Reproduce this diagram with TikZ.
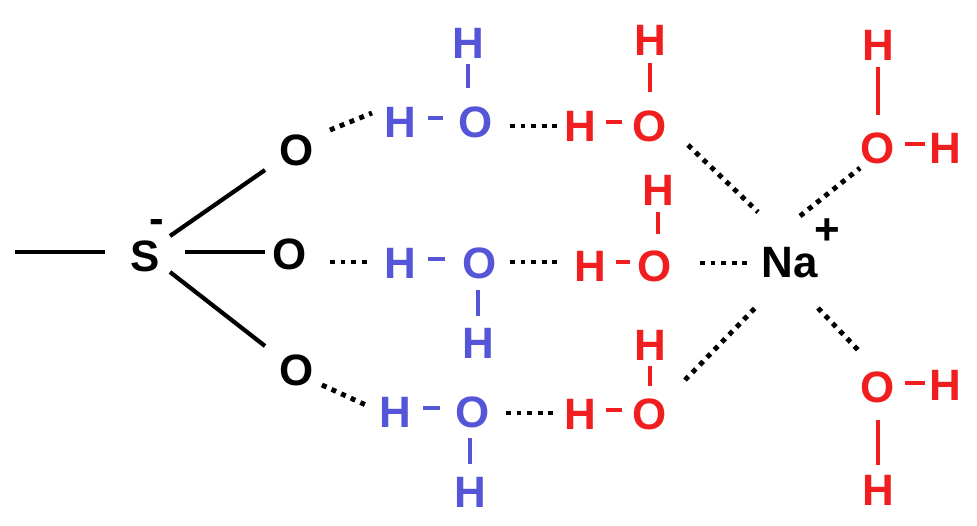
\documentclass[tikz,border=0pt]{standalone}
\usepackage{fontspec}
\setmainfont{Liberation Sans}
\definecolor{bl}{RGB}{85,85,215}
\definecolor{rd}{RGB}{240,30,30}
\begin{document}
\begin{tikzpicture}[x=0.02cm,y=-0.02cm,
  atm/.style={font=\fontsize{25}{25}\selectfont\bfseries,inner sep=0pt},
  bond/.style={line width=2.4pt},
  hb/.style={line width=2.8pt,dash pattern=on 2.8pt off 3.2pt}]
\useasboundingbox (0,0) rectangle (977,525);
% black
\coordinate (L) at (15,252);
\node[atm] (S) at (145,256) {S};
\node[atm] (Sm) at (157,226) {-};
\node[atm] (O1) at (297,150) {O};
\node[atm] (O2) at (290,254) {O};
\node[atm] (O3) at (297,370) {O};
\draw[bond] (L) -- (105,252);
\draw[bond] (170,236) -- (265,170);
\draw[bond] (185,252) -- (265,252);
\draw[bond] (170,272) -- (265,346);
% blue
\begin{scope}[bl]
\node[atm,bl] (bH1) at (400,122) {H};
\node[atm,bl] (bO1) at (476,122) {O};
\node[atm,bl] (bH1t) at (468,43) {H};
\draw[bond] (428,118) -- (443,118);
\draw[bond] (468,64) -- (468,88);
\node[atm,bl] (bH2) at (400,263) {H};
\node[atm,bl] (bO2) at (480,263) {O};
\node[atm,bl] (bH2b) at (478,343) {H};
\draw[bond] (428,259) -- (445,259);
\draw[bond] (478,290) -- (478,316);
\node[atm,bl] (bH3) at (395,412) {H};
\node[atm,bl] (bO3) at (473,412) {O};
\node[atm,bl] (bH3b) at (470,492) {H};
\draw[bond] (423,408) -- (440,408);
\draw[bond] (470,438) -- (470,464);
\end{scope}
\draw[hb] (330,130) -- (372,113);
\draw[hb] (330,262) -- (372,262);
\draw[hb] (322,385) -- (368,406);
% red
\begin{scope}[rd]
\node[atm,rd] (rH1t) at (650,40) {H};
\node[atm,rd] (rO1) at (650,126) {O};
\node[atm,rd] (rH1) at (580,126) {H};
\draw[bond] (650,63) -- (650,92);
\draw[bond] (606,122) -- (622,122);
\node[atm,rd] (rH2t) at (658,190) {H};
\node[atm,rd] (rO2) at (655,266) {O};
\node[atm,rd] (rH2) at (590,266) {H};
\draw[bond] (658,212) -- (658,234);
\draw[bond] (616,262) -- (630,262);
\node[atm,rd] (rH3t) at (650,345) {H};
\node[atm,rd] (rO3) at (650,414) {O};
\node[atm,rd] (rH3) at (580,414) {H};
\draw[bond] (650,366) -- (650,386);
\draw[bond] (606,410) -- (622,410);
\node[atm,rd] (rO4) at (878,148) {O};
\node[atm,rd] (rH4) at (945,148) {H};
\node[atm,rd] (rH4t) at (878,45) {H};
\draw[bond] (905,144) -- (925,144);
\draw[bond] (878,67) -- (878,115);
\node[atm,rd] (rO5) at (878,387) {O};
\node[atm,rd] (rH5) at (945,385) {H};
\node[atm,rd] (rH5b) at (878,490) {H};
\draw[bond] (905,383) -- (925,383);
\draw[bond] (878,420) -- (878,465);
\end{scope}
\draw[hb] (510,126) -- (557,126);
\draw[hb] (510,262) -- (562,262);
\draw[hb] (506,413) -- (556,413);
% Na
\node[atm] (Na) at (790,263) {Na};
\node[atm] (Nap) at (827,232) {+};
\draw[hb] (700,263) -- (748,263);
\draw[hb] (688,145) -- (758,212);
\draw[hb] (685,380) -- (758,305);
\draw[hb] (800,216) -- (860,168);
\draw[hb] (818,308) -- (860,352);
\end{tikzpicture}
\end{document}
